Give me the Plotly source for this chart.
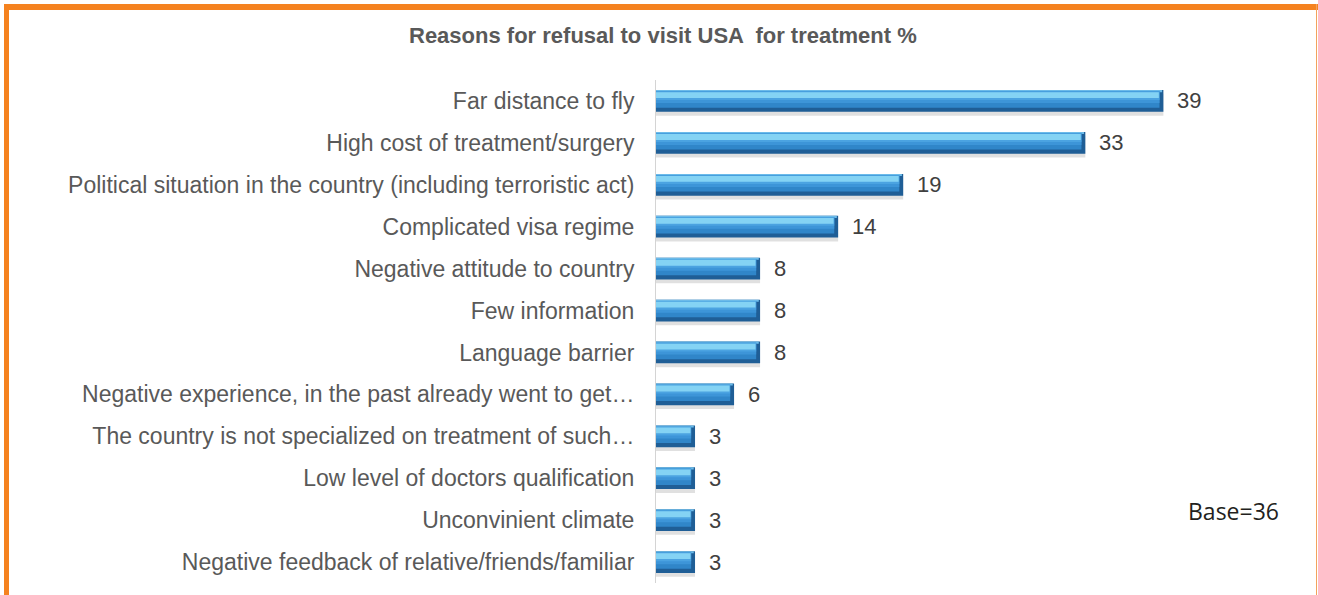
import plotly.graph_objects as go

# Survey answers, listed top to bottom as they appear on the chart
reasons = [
    "Far distance to fly",
    "High cost of treatment/surgery",
    "Political situation in the country (including terroristic act)",
    "Complicated visa regime",
    "Negative attitude to country",
    "Few information",
    "Language barrier",
    "Negative experience, in the past already went to get…",
    "The country is not specialized on treatment of such…",
    "Low level of doctors qualification",
    "Unconvinient climate",
    "Negative feedback of relative/friends/familiar",
]
shares = [39, 33, 19, 14, 8, 8, 8, 6, 3, 3, 3, 3]

TITLE = "Reasons for refusal to visit USA  for treatment %"
BASE_NOTE = "Base=36"

W, H = 1318, 595
FONT = "Liberation Sans, Arial, sans-serif"

# plot area in pixels
X0, X1 = 656, 1300
Y0, Y1 = 80, 583
XMAX = 49.5


def px_x(p):
    return p / W


def px_y(p):
    return 1 - p / H


fig = go.Figure()

half = 0.26  # half of the bar thickness in category units


def layer(xs, offset, width, color):
    fig.add_trace(go.Bar(
        x=xs, y=reasons, orientation="h",
        offset=offset, width=width,
        marker=dict(color=color, line=dict(width=0)),
        hoverinfo="skip", showlegend=False,
    ))


# soft drop shadow under each bar
layer(shares, -half + 0.09, 2 * half, "rgba(0,0,0,0.12)")
# dark body (forms the bevelled bottom and right edges)
layer(shares, -half, 2 * half, "#1f5e96")
# light rim along the top
layer([v - 0.1 for v in shares], -half, 0.05, "#6cbbe9")
# main blue face, lighter towards the top
layer([v - 0.3 for v in shares], -half + 0.03, 2 * half - 0.13, "#3086c9")
layer([v - 0.3 for v in shares], -half + 0.03, 0.28, "#3d95d8")
layer([v - 0.3 for v in shares], -half + 0.03, 0.21, "#4ba3e1")
# cyan highlight band near the top edge
layer([v - 0.35 for v in shares], -half + 0.05, 0.14, "#84d3f4")

# value labels next to each bar
for r, v in zip(reasons, shares):
    fig.add_annotation(
        x=v, y=r, xref="x", yref="y", text=str(v), showarrow=False,
        xanchor="left", yanchor="middle", xshift=12,
        font=dict(family=FONT, size=22, color="#404040"),
    )

fig.add_annotation(
    x=px_x(663), y=px_y(35), xref="paper", yref="paper", text=f"<b>{TITLE}</b>",
    showarrow=False, xanchor="center", yanchor="middle",
    font=dict(family=FONT, size=22, color="#595959"),
)
fig.add_annotation(
    x=px_x(1233), y=px_y(511), xref="paper", yref="paper", text=BASE_NOTE,
    showarrow=False, xanchor="center", yanchor="middle",
    font=dict(family="Open Sans, Noto Sans, sans-serif", size=23, color="#231f20"),
)

# orange frame
orange = "#f5821f"
fig.add_shape(type="rect", xref="paper", yref="paper", layer="above",
              x0=px_x(4), x1=px_x(W), y0=px_y(4), y1=px_y(10),
              fillcolor=orange, line=dict(width=0))
fig.add_shape(type="rect", xref="paper", yref="paper", layer="above",
              x0=px_x(4), x1=px_x(9), y0=px_y(4), y1=px_y(H),
              fillcolor=orange, line=dict(width=0))
fig.add_shape(type="rect", xref="paper", yref="paper", layer="above",
              x0=px_x(1316), x1=px_x(1317), y0=px_y(4), y1=px_y(H),
              fillcolor="#f2a35c", line=dict(width=0))

fig.update_layout(
    width=W, height=H,
    margin=dict(l=0, r=0, t=0, b=0),
    paper_bgcolor="white", plot_bgcolor="white",
    barmode="overlay",
    showlegend=False,
    xaxis=dict(domain=[px_x(X0), px_x(X1)], range=[0, XMAX],
               visible=False, showgrid=False, zeroline=False, fixedrange=True),
    yaxis=dict(domain=[px_y(Y1), px_y(Y0)], autorange="reversed",
               categoryorder="array", categoryarray=reasons,
               showline=True, linecolor="#d4d4d4", linewidth=1,
               showgrid=False, zeroline=False, ticks="",
               ticklabelstandoff=16,
               tickfont=dict(family=FONT, size=23, color="#595959"),
               fixedrange=True),
)

fig.write_html("out.html")
